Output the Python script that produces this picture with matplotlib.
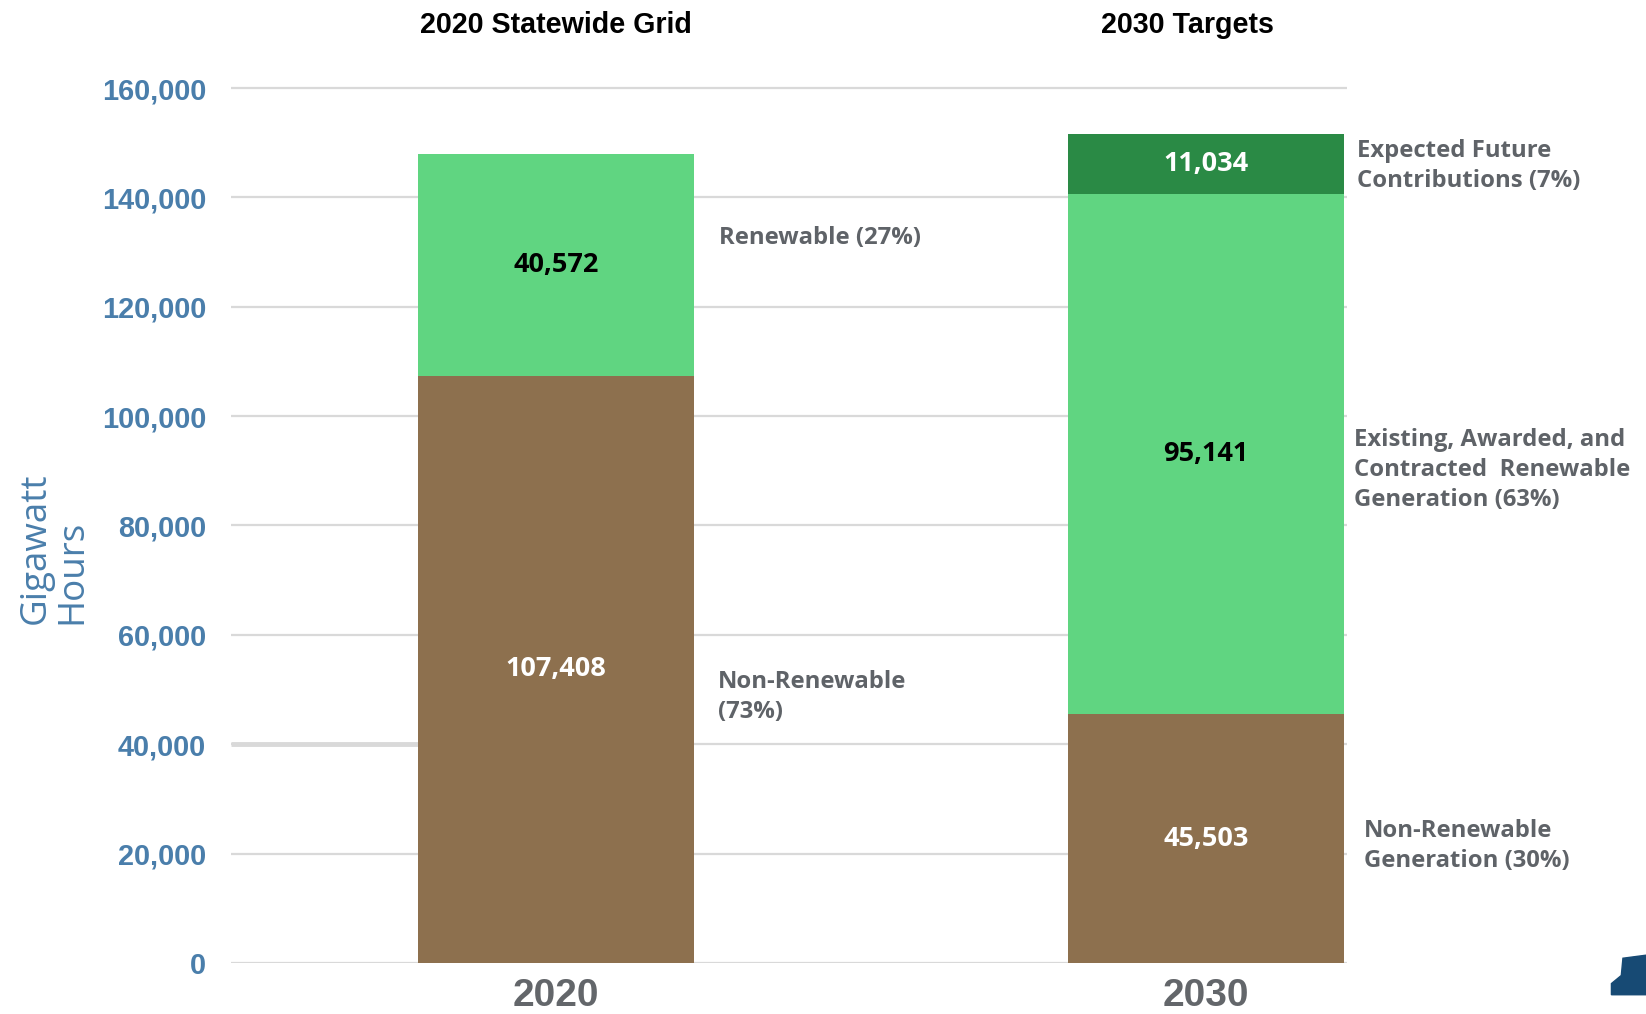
import matplotlib
matplotlib.use('Agg')
import matplotlib.pyplot as plt
from matplotlib.patches import Polygon
from matplotlib.transforms import blended_transform_factory

# data (gigawatt hours)
years = ['2020', '2030']
panel_titles = ['2020 Statewide Grid', '2030 Targets']
non_renewable = [107408, 45503]
renewable = [40572, 95141]
expected_future = [0, 11034]
y_ticks = [0, 20000, 40000, 60000, 80000, 100000, 120000, 140000, 160000]

BROWN = '#8d704e'
LIGHT_GREEN = '#60d581'
DARK_GREEN = '#2a8a45'
GRID = '#d9d9d9'
AXIS_BLUE = '#4a7eab'
NOTE_GREY = '#5f6368'

fig = plt.figure(figsize=(16.46, 10.14), dpi=100)
ax = fig.add_axes([0.1403, 0.0503, 0.678, 0.8737])

x = [0, 1]
width = 0.4246
ax.bar(x, non_renewable, width, color=BROWN, zorder=3)
ax.bar(x, renewable, width, bottom=non_renewable, color=LIGHT_GREEN, zorder=3)
base2 = [a + b for a, b in zip(non_renewable, renewable)]
ax.bar(x[1], expected_future[1], width, bottom=base2[1], color=DARK_GREEN, zorder=3)

ax.set_xlim(-0.5, 1.2169)
ax.set_ylim(0, 162000)
ax.set_yticks(y_ticks)
ax.set_yticklabels([f'{v:,}' for v in y_ticks], fontfamily='Liberation Sans',
                   fontweight='bold', fontsize=20.8, color=AXIS_BLUE)
ax.tick_params(axis='y', length=0, pad=18)
ax.set_xticks(x)
ax.set_xticklabels(years, fontfamily='Liberation Sans', fontweight='bold',
                   fontsize=28, color='#63666a')
ax.tick_params(axis='x', length=0, pad=11)
ax.grid(axis='y', color=GRID, lw=1.6, zorder=0)
ax.set_axisbelow(True)
for s in ax.spines.values():
    s.set_visible(False)

# the thicker stub of the 40,000 line left of the first bar
ax.hlines(40000, -0.5, x[0] - width / 2, color=GRID, lw=3.5, zorder=1)

# value labels inside the segments
seg_font = dict(fontfamily='Open Sans', fontsize=19.5, fontweight='bold',
                ha='center', va='center', zorder=4)
ax.text(0, non_renewable[0] / 2, f'{non_renewable[0]:,}', color='white', **seg_font)
ax.text(0, non_renewable[0] + renewable[0] / 2, f'{renewable[0]:,}', color='black', **seg_font)
ax.text(1, non_renewable[1] / 2, f'{non_renewable[1]:,}', color='white', **seg_font)
ax.text(1, non_renewable[1] + renewable[1] / 2, f'{renewable[1]:,}', color='black', **seg_font)
ax.text(1, base2[1] + expected_future[1] / 2, f'{expected_future[1]:,}', color='white', **seg_font)

# category notes beside the bars
note_font = dict(fontfamily='Open Sans', fontsize=17.2, fontweight='bold',
                 color=NOTE_GREY, ha='left', va='center', linespacing=1.32)
ax.text(0.251, 132570, 'Renewable (27%)', **note_font)
ax.text(0.249, 48640, 'Non-Renewable\n(73%)', **note_font)
ax.text(1.232, 145730, 'Expected Future\nContributions (7%)', clip_on=False, **note_font)
ax.text(1.228, 90145, 'Existing, Awarded, and\nContracted  Renewable\nGeneration (63%)',
        clip_on=False, **note_font)
ax.text(1.243, 21390, 'Non-Renewable\nGeneration (30%)', clip_on=False, **note_font)

# column titles
title_tr = blended_transform_factory(ax.transData, fig.transFigure)
for xi, title in zip([0, 0.971], panel_titles):
    ax.text(xi, 0.975, title, transform=title_tr,
            fontfamily='Liberation Sans', fontweight='bold', fontsize=20.6,
            ha='center', va='center')

fig.text(0.033, 0.459, 'Gigawatt\nHours', rotation=90, color=AXIS_BLUE,
         fontfamily='Open Sans', fontsize=26.5, ha='center', va='center',
         multialignment='left', linespacing=1.02)

# cut-off logo in the lower right corner
fig.patches.append(Polygon([[0.979, 0.019], [0.979, 0.03], [0.985, 0.038],
                            [0.986, 0.055], [1.0, 0.058], [1.0, 0.019]],
                           closed=True, transform=fig.transFigure,
                           color='#174a74', zorder=5))

fig.savefig('out.png', dpi=100)
